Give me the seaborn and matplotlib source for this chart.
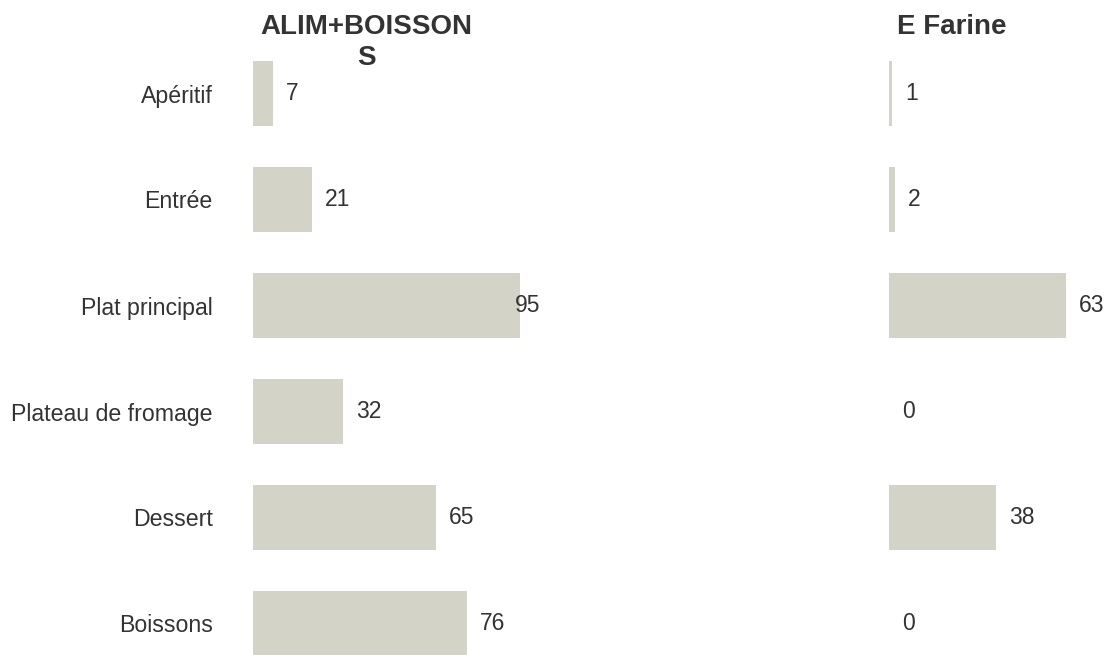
import matplotlib
matplotlib.use("Agg")
import matplotlib.pyplot as plt
import seaborn as sns
import pandas as pd

categories = ["Apéritif", "Entrée", "Plat principal", "Plateau de fromage", "Dessert", "Boissons"]
alim_boissons = [7, 21, 95, 32, 65, 76]
e_farine = [1, 2, 63, 0, 38, 0]
titles = ["ALIM+BOISSON\nS", "E Farine"]

sns.set_theme(style="white")
plt.rcParams["font.family"] = ["Liberation Sans", "DejaVu Sans"]

BAR = "#d3d3c7"
TXT = "#333333"
W, H, DPI = 1112, 655, 100
PPU = 2.81  # pixels per unit

fig = plt.figure(figsize=(W / DPI, H / DPI), dpi=DPI)

row_px = 106.0
first_center = 93.5
top_px = first_center - row_px / 2
ax_top = 1 - top_px / H
ylim_bottom = -0.5 + (H - top_px) / row_px

panels = [
    (253, 540, alim_boissons, titles[0], 366, True),
    (889, 1112, e_farine, titles[1], 952, False),
]

for left_px, right_px, vals, title, tx, show_labels in panels:
    ax = fig.add_axes([left_px / W, 0, (right_px - left_px) / W, ax_top])
    df = pd.DataFrame({"cat": categories, "val": vals})
    sns.barplot(data=df, x="val", y="cat", orient="h", color=BAR,
                saturation=1, width=0.613, ax=ax, edgecolor="none")
    xmax = (right_px - left_px) / PPU
    ax.set_xlim(0, xmax)
    ax.set_ylim(ylim_bottom, -0.5)
    for s in ax.spines.values():
        s.set_visible(False)
    ax.set_xticks([])
    ax.set_xlabel("")
    ax.set_ylabel("")
    if show_labels:
        ax.tick_params(axis="y", length=0, pad=29, labelsize=16.7, labelcolor=TXT)
    else:
        ax.set_yticklabels([])
        ax.tick_params(axis="y", length=0)
    for i, v in enumerate(vals):
        end_px = v * PPU + 13
        est_w = 12.5 * len(str(v))
        if end_px + est_w > (right_px - left_px):
            ax.annotate(str(v), xy=(xmax, i), xycoords="data", ha="right", va="center",
                        fontsize=16.5, color=TXT, annotation_clip=False)
        else:
            ax.annotate(str(v), xy=(v, i), xytext=(13 * 72 / DPI, 0), textcoords="offset points",
                        ha="left", va="center", fontsize=16.5, color=TXT, annotation_clip=False)
    fig.text(tx / W, 1 - 14 / H, title, ha="center", va="top", fontsize=20,
             fontweight="bold", color=TXT, linespacing=1.25)

fig.savefig("out.png", dpi=DPI)
